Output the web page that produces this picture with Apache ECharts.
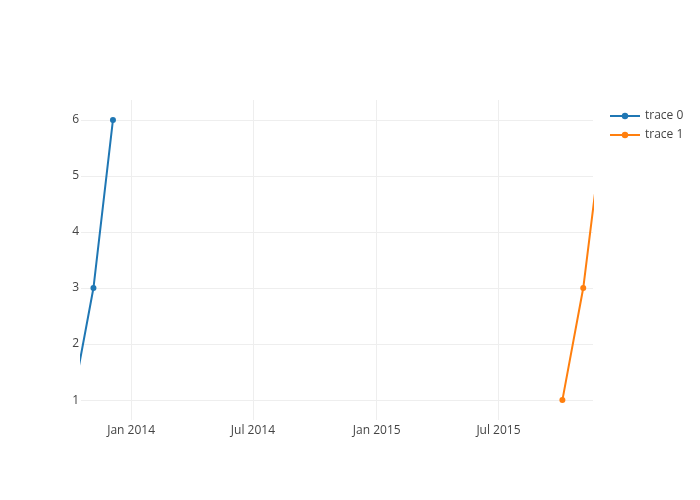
<!DOCTYPE html>
<html>
<head>
<meta charset="utf-8">
<script src="https://cdn.jsdelivr.net/npm/echarts@6/dist/echarts.min.js"></script>
<style>html,body{margin:0;padding:0;background:#fff;}#c{width:700px;height:500px;}</style>
</head>
<body>
<div id="c"></div>
<script>
const trace0Dates = ['2013-10-06', '2013-11-06', '2013-12-05'];
const trace0Values = [1, 3, 6];
const trace1Dates = ['2015-10-04', '2015-11-04', '2015-12-05'];
const trace1Values = [1, 3, 6];
const xTickDates = ['2014-01-01', '2014-07-01', '2015-01-01', '2015-07-01'];
const yTickValues = [1, 2, 3, 4, 5, 6];
const xRange = ['2013-10-18T12:00:00Z', '2015-11-18T12:00:00Z'];
const yRange = [0.645, 6.355];
const seriesNames = ['trace 0', 'trace 1'];
const colors = ['#1f77b4', '#ff7f0e'];

const MONTHS = ['Jan','Feb','Mar','Apr','May','Jun','Jul','Aug','Sep','Oct','Nov','Dec'];
const ts = s => Date.parse(s.length === 10 ? s + 'T00:00:00Z' : s);

const chart = echarts.init(document.getElementById('c'), null, {renderer: 'canvas'});
const font = '"Open Sans", "Noto Sans", sans-serif';
const makeSeries = (i, dates, vals) => ({
  name: seriesNames[i],
  type: 'line',
  data: dates.map((d, k) => [ts(d), vals[k]]),
  symbol: 'circle',
  symbolSize: 6,
  showSymbol: true,
  clip: true,
  itemStyle: {color: colors[i]},
  lineStyle: {color: colors[i], width: 2},
  emphasis: {disabled: true},
  animation: false
});
chart.setOption({
  animation: false,
  textStyle: {fontFamily: font},
  grid: {left: 81, top: 100, width: 512, height: 320, containLabel: false},
  legend: {
    orient: 'vertical', left: 609, top: 109, padding: 0, itemGap: 5, itemWidth: 30, itemHeight: 8,
    textStyle: {color: '#444', fontSize: 12, fontFamily: font, lineHeight: 14},
    data: seriesNames
  },
  xAxis: {
    type: 'value',
    min: ts(xRange[0]), max: ts(xRange[1]),
    axisLine: {show: false},
    axisTick: {show: false, customValues: xTickDates.map(ts)},
    axisLabel: {
      customValues: xTickDates.map(ts),
      color: '#444', fontSize: 12, fontFamily: font, margin: 5,
      formatter: v => { const d = new Date(v); return MONTHS[d.getUTCMonth()] + ' ' + d.getUTCFullYear(); }
    },
    splitLine: {show: true, lineStyle: {color: '#eeeeee', width: 1}}
  },
  yAxis: {
    type: 'value',
    min: yRange[0], max: yRange[1],
    axisLine: {show: false},
    axisTick: {show: false, customValues: yTickValues},
    axisLabel: {customValues: yTickValues, color: '#444', fontSize: 12, fontFamily: font, margin: 2},
    splitLine: {show: true, lineStyle: {color: '#eeeeee', width: 1}}
  },
  series: [
    makeSeries(0, trace0Dates, trace0Values),
    makeSeries(1, trace1Dates, trace1Values)
  ]
});
</script>
</body>
</html>
